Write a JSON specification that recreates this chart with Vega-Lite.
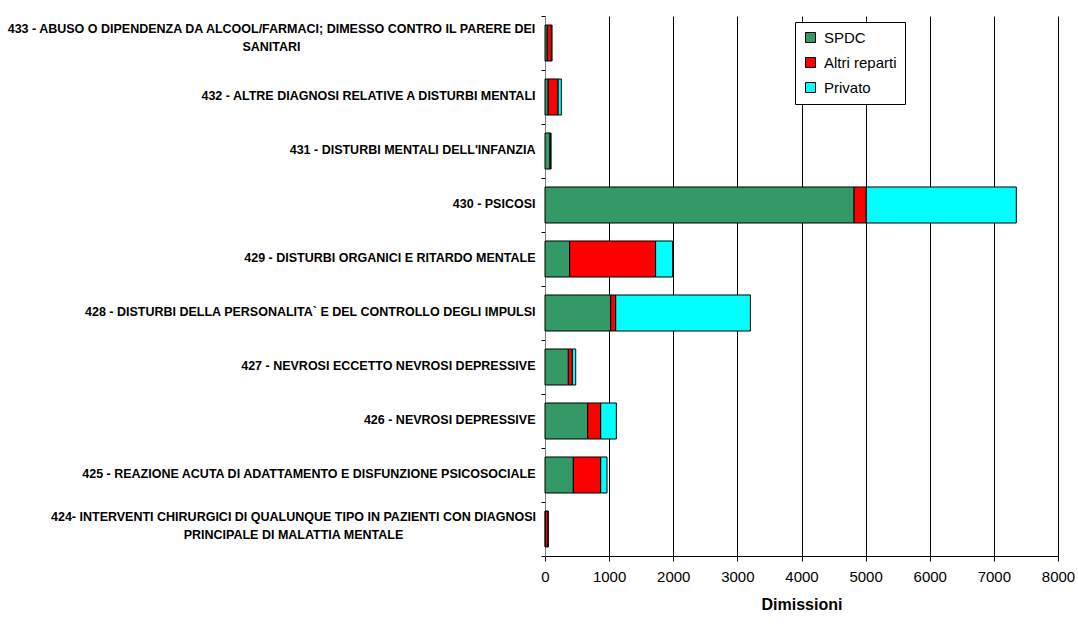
{
  "$schema": "https://vega.github.io/schema/vega-lite/v6.json",
  "width": 513,
  "height": 540,
  "autosize": {"type": "none"},
  "padding": {"left": 545, "top": 16, "right": 20, "bottom": 84},
  "background": "white",
  "config": {
    "view": {"stroke": null},
    "font": "Liberation Sans"
  },
  "data": {
    "values": [
      {"drg": "433 - ABUSO O DIPENDENZA DA ALCOOL/FARMACI; DIMESSO CONTRO IL PARERE DEI|SANITARI", "tipo": "SPDC", "dimissioni": 35},
      {"drg": "433 - ABUSO O DIPENDENZA DA ALCOOL/FARMACI; DIMESSO CONTRO IL PARERE DEI|SANITARI", "tipo": "Altri reparti", "dimissioni": 65},
      {"drg": "433 - ABUSO O DIPENDENZA DA ALCOOL/FARMACI; DIMESSO CONTRO IL PARERE DEI|SANITARI", "tipo": "Privato", "dimissioni": 10},
      {"drg": "432 - ALTRE DIAGNOSI RELATIVE A DISTURBI MENTALI", "tipo": "SPDC", "dimissioni": 50},
      {"drg": "432 - ALTRE DIAGNOSI RELATIVE A DISTURBI MENTALI", "tipo": "Altri reparti", "dimissioni": 155},
      {"drg": "432 - ALTRE DIAGNOSI RELATIVE A DISTURBI MENTALI", "tipo": "Privato", "dimissioni": 50},
      {"drg": "431 - DISTURBI MENTALI DELL'INFANZIA", "tipo": "SPDC", "dimissioni": 80},
      {"drg": "431 - DISTURBI MENTALI DELL'INFANZIA", "tipo": "Altri reparti", "dimissioni": 5},
      {"drg": "431 - DISTURBI MENTALI DELL'INFANZIA", "tipo": "Privato", "dimissioni": 10},
      {"drg": "430 - PSICOSI", "tipo": "SPDC", "dimissioni": 4820},
      {"drg": "430 - PSICOSI", "tipo": "Altri reparti", "dimissioni": 190},
      {"drg": "430 - PSICOSI", "tipo": "Privato", "dimissioni": 2340},
      {"drg": "429 - DISTURBI ORGANICI E RITARDO MENTALE", "tipo": "SPDC", "dimissioni": 385},
      {"drg": "429 - DISTURBI ORGANICI E RITARDO MENTALE", "tipo": "Altri reparti", "dimissioni": 1340},
      {"drg": "429 - DISTURBI ORGANICI E RITARDO MENTALE", "tipo": "Privato", "dimissioni": 265},
      {"drg": "428 - DISTURBI DELLA PERSONALITA` E DEL CONTROLLO DEGLI IMPULSI", "tipo": "SPDC", "dimissioni": 1025},
      {"drg": "428 - DISTURBI DELLA PERSONALITA` E DEL CONTROLLO DEGLI IMPULSI", "tipo": "Altri reparti", "dimissioni": 78},
      {"drg": "428 - DISTURBI DELLA PERSONALITA` E DEL CONTROLLO DEGLI IMPULSI", "tipo": "Privato", "dimissioni": 2100},
      {"drg": "427 - NEVROSI ECCETTO NEVROSI DEPRESSIVE", "tipo": "SPDC", "dimissioni": 364},
      {"drg": "427 - NEVROSI ECCETTO NEVROSI DEPRESSIVE", "tipo": "Altri reparti", "dimissioni": 62},
      {"drg": "427 - NEVROSI ECCETTO NEVROSI DEPRESSIVE", "tipo": "Privato", "dimissioni": 53},
      {"drg": "426 - NEVROSI DEPRESSIVE", "tipo": "SPDC", "dimissioni": 666},
      {"drg": "426 - NEVROSI DEPRESSIVE", "tipo": "Altri reparti", "dimissioni": 203},
      {"drg": "426 - NEVROSI DEPRESSIVE", "tipo": "Privato", "dimissioni": 244},
      {"drg": "425 - REAZIONE ACUTA DI ADATTAMENTO E DISFUNZIONE PSICOSOCIALE", "tipo": "SPDC", "dimissioni": 442},
      {"drg": "425 - REAZIONE ACUTA DI ADATTAMENTO E DISFUNZIONE PSICOSOCIALE", "tipo": "Altri reparti", "dimissioni": 427},
      {"drg": "425 - REAZIONE ACUTA DI ADATTAMENTO E DISFUNZIONE PSICOSOCIALE", "tipo": "Privato", "dimissioni": 98},
      {"drg": "424- INTERVENTI CHIRURGICI DI QUALUNQUE TIPO IN PAZIENTI CON DIAGNOSI|PRINCIPALE DI MALATTIA MENTALE", "tipo": "SPDC", "dimissioni": 5},
      {"drg": "424- INTERVENTI CHIRURGICI DI QUALUNQUE TIPO IN PAZIENTI CON DIAGNOSI|PRINCIPALE DI MALATTIA MENTALE", "tipo": "Altri reparti", "dimissioni": 42},
      {"drg": "424- INTERVENTI CHIRURGICI DI QUALUNQUE TIPO IN PAZIENTI CON DIAGNOSI|PRINCIPALE DI MALATTIA MENTALE", "tipo": "Privato", "dimissioni": 3}
    ]
  },
  "transform": [
    {"calculate": "indexof(['SPDC', 'Altri reparti', 'Privato'], datum.tipo)", "as": "ordine"}
  ],
  "mark": {"type": "bar", "stroke": "black", "strokeWidth": 1, "height": {"band": 0.667}},
  "encoding": {
    "y": {
      "field": "drg",
      "type": "nominal",
      "sort": "descending",
      "scale": {"paddingInner": 0, "paddingOuter": 0},
      "axis": {
        "title": null,
        "tickBand": "extent",
        "domainColor": "#808080",
        "tickColor": "black",
        "tickSize": 4,
        "labelFontSize": 12.5,
        "labelFontWeight": "bold",
        "labelColor": "black",
        "labelLimit": 545,
        "labelLineHeight": 18,
        "labelExpr": "split(datum.label, '|')",
        "labelAlign": {"condition": {"test": "indexof(datum.label, '|') >= 0", "value": "center"}, "value": "right"},
        "labelPadding": {"condition": [
          {"test": "slice(datum.label, 0, 3) == '433'", "value": 270},
          {"test": "slice(datum.label, 0, 3) == '424'", "value": 248}
        ], "value": 6},
        "labelOffset": {"condition": [
          {"test": "slice(datum.label, 0, 3) == '433'", "value": -15},
          {"test": "slice(datum.label, 0, 3) == '424'", "value": -13}
        ], "value": -2}
      }
    },
    "x": {
      "field": "dimissioni",
      "type": "quantitative",
      "stack": "zero",
      "scale": {"domain": [0, 8000], "nice": false},
      "axis": {
        "title": "Dimissioni",
        "values": [0, 1000, 2000, 3000, 4000, 5000, 6000, 7000, 8000],
        "format": "d",
        "grid": true,
        "gridColor": "black",
        "gridWidth": 1,
        "domainColor": "black",
        "tickColor": "black",
        "tickSize": 5,
        "labelFontSize": 15,
        "labelColor": "black",
        "labelPadding": 8,
        "labelFlush": false,
        "titleFontSize": 16,
        "titleFontWeight": "bold",
        "titleColor": "black",
        "titlePadding": 12
      }
    },
    "color": {
      "field": "tipo",
      "type": "nominal",
      "scale": {"domain": ["SPDC", "Altri reparti", "Privato"], "range": ["#339966", "#FF0000", "#00FFFF"]},
      "legend": {
        "title": null,
        "orient": "none",
        "legendX": 250,
        "legendY": 6,
        "strokeColor": "black",
        "fillColor": "white",
        "padding": 8,
        "labelFontSize": 15,
        "labelColor": "black",
        "labelOffset": 6,
        "symbolType": "square",
        "symbolSize": 100,
        "symbolStrokeColor": "black",
        "symbolStrokeWidth": 1,
        "rowPadding": 9
      }
    },
    "order": {"field": "ordine"}
  }
}
